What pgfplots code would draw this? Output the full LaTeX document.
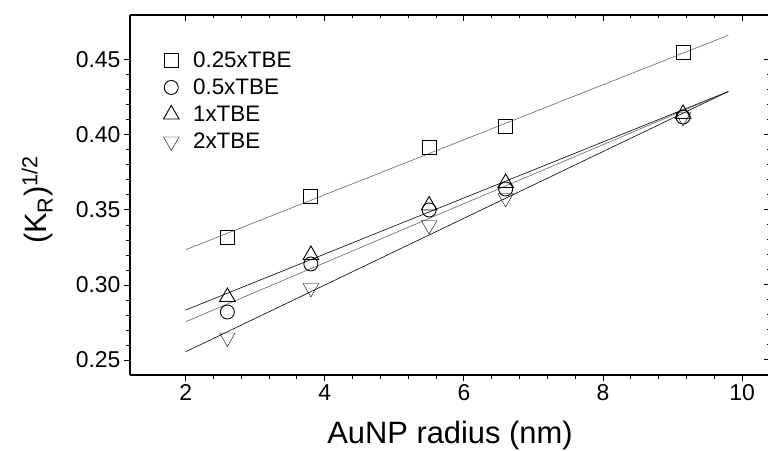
\documentclass[border=0pt]{standalone}
\usepackage{fontspec}
\setmainfont{Liberation Sans}
\usepackage{pgfplots}
\pgfplotsset{compat=1.18}
\begin{document}
\begin{tikzpicture}
\pgfplotsset{
  common/.style={
    scale only axis, width=640bp, height=360bp,
    xmin=1.2, xmax=10.4, ymin=0.24, ymax=0.48,
    xtick={2,4,6,8,10}, minor x tick num=4,
    ytick={0.25,0.30,0.35,0.40,0.45}, minor y tick num=4,
    axis line style={-, line width=1.3bp},
    major tick length=6bp, minor tick length=3.5bp,
    every tick/.style={black, line width=1bp},
  }
}
\begin{axis}[common,
  axis x line*=bottom, axis y line*=left, tick align=outside,
  /pgf/number format/assume math mode=true,
  ticklabel style={font=\fontsize{23}{23}\selectfont},
  yticklabel style={/pgf/number format/.cd, fixed, fixed zerofill, precision=2},
  xlabel={AuNP radius (nm)}, ylabel={(K\textsubscript{R})\textsuperscript{1/2}},
  label style={font=\fontsize{31}{31}\selectfont},
  xlabel style={at={(axis description cs:0.5,-0.167)}, anchor=center},
  ylabel style={at={(axis description cs:-0.145,0.486)}, anchor=center},
  legend style={draw=none, fill=none, at={(axis description cs:0.052,0.904)}, anchor=north west,
    font=\fontsize{22.5}{22.5}\selectfont, row sep=6bp, column sep=12bp, inner sep=0pt},
  legend cell align=left,
  mark options={solid, line width=0.9bp, fill=white},
]
\addplot[only marks, mark=square, mark size=7bp] coordinates {(2.6,0.332) (3.8,0.359) (5.5,0.392) (6.6,0.406) (9.15,0.455)};
\addlegendentry{0.25xTBE}
\addplot[only marks, mark=o, mark size=7bp] coordinates {(2.6,0.282) (3.8,0.314) (5.5,0.350) (6.6,0.364) (9.15,0.412)};
\addlegendentry{0.5xTBE}
\addplot[only marks, mark=triangle, mark size=9bp] coordinates {(2.6,0.292) (3.8,0.320) (5.5,0.353) (6.6,0.368) (9.15,0.414)};
\addlegendentry{1xTBE}
\addplot[only marks, mark=triangle, mark size=9bp, mark options={rotate=180}] coordinates {(2.6,0.265) (3.8,0.298) (5.5,0.340) (6.6,0.358) (9.15,0.412)};
\addlegendentry{2xTBE}
\addplot[forget plot, gray!80!black, line width=0.6bp] coordinates {(2,0.3235) (9.8,0.4665)};
\addplot[forget plot, black, line width=0.6bp] coordinates {(2,0.2833) (9.8,0.429)};
\addplot[forget plot, gray!80!black, line width=0.6bp] coordinates {(2,0.2755) (9.8,0.429)};
\addplot[forget plot, black, line width=0.6bp] coordinates {(2,0.2555) (9.8,0.429)};
\end{axis}
\begin{axis}[common,
  axis x line*=top, axis y line*=right, tick align=inside,
  xticklabels={}, yticklabels={},
]
\end{axis}
\pgfresetboundingbox
\path[use as bounding box] (-130bp,-76bp) rectangle (638bp,375bp);
\end{tikzpicture}
\end{document}
